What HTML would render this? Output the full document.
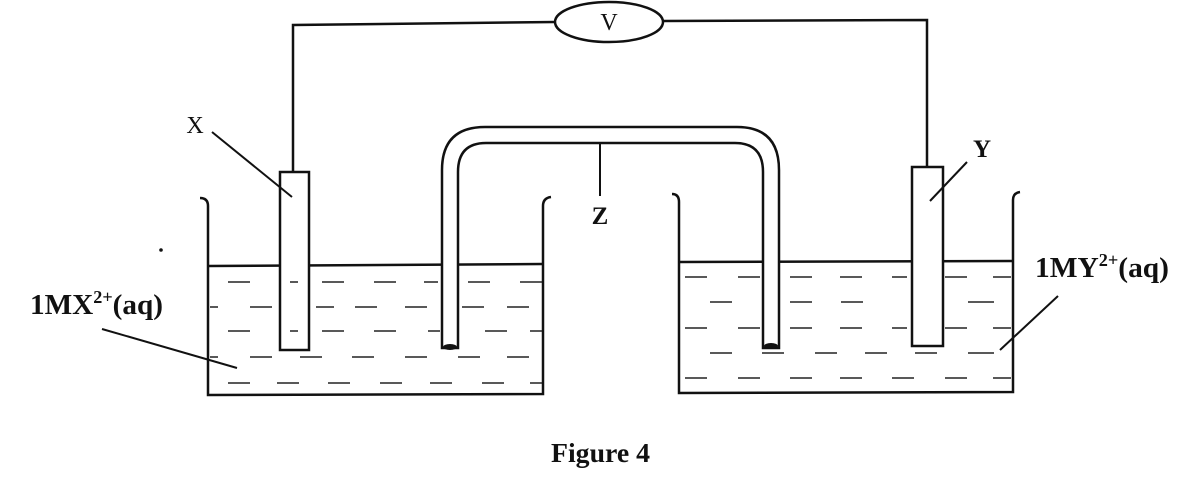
<!DOCTYPE html>
<html><head><meta charset="utf-8"><style>
html,body{margin:0;padding:0;background:#fff;}
svg{display:block;}
text{font-family:"Liberation Serif",serif;fill:#111;}
</style></head><body>
<svg width="1202" height="479" viewBox="0 0 1202 479" xmlns="http://www.w3.org/2000/svg">
<g stroke="#111" fill="none" stroke-width="2.5">
<polyline points="293,172 293,25 555,22"/>
<polyline points="663,21 927,20 927,167"/>
<ellipse cx="609" cy="22" rx="54" ry="20"/>
<path d="M200,198 Q208,198 208,206 L208,395 L543,394 L543,206 Q543,198 551,197"/>
<line x1="208" y1="266" x2="543" y2="264"/>
<path d="M672,194 Q679,194 679,202 L679,393 L1013,392 L1013,200 Q1013,193 1020,192"/>
<line x1="679" y1="262" x2="1013" y2="261"/>
</g>
<rect x="280" y="172" width="29" height="178" fill="#fff" stroke="#111" stroke-width="2.5"/>
<rect x="912" y="167" width="31" height="179" fill="#fff" stroke="#111" stroke-width="2.5"/>
<path d="M442,348 L442,170 Q442,127 485,127 L737,127 Q779,127 779,170 L779,348 L763,348 L763,172 Q763,143 735,143 L486,143 Q458,143 458,172 L458,348 Z" fill="#fff" stroke="#111" stroke-width="2.5"/>
<ellipse cx="450" cy="347" rx="7" ry="3" fill="#111"/>
<ellipse cx="771" cy="346" rx="7" ry="3" fill="#111"/>
<g stroke="#222" stroke-width="1.6">
<path d="M228,282h22 M290,282h8 M322,282h22 M374,282h22 M424,282h14 M468,282h22 M520,282h22"/>
<path d="M210,307h8 M250,307h22 M316,307h18 M355,307h22 M405,307h22 M462,307h22 M507,307h22"/>
<path d="M228,331h22 M290,331h8 M322,331h22 M374,331h22 M428,331h12 M485,331h22 M530,331h12"/>
<path d="M210,357h8 M250,357h22 M300,357h22 M352,357h22 M405,357h22 M458,357h22 M507,357h22"/>
<path d="M228,383h22 M277,383h22 M328,383h22 M380,383h22 M430,383h22 M482,383h22 M530,383h12"/>
<path d="M685,277h22 M738,277h22 M790,277h22 M840,277h22 M892,277h15 M945,277h22 M993,277h18"/>
<path d="M710,302h22 M790,302h22 M841,302h22 M968,302h26"/>
<path d="M685,328h22 M738,328h22 M790,328h22 M840,328h22 M892,328h15 M945,328h22 M993,328h18"/>
<path d="M710,353h22 M762,353h22 M815,353h22 M865,353h22 M915,353h22 M968,353h26"/>
<path d="M685,378h22 M738,378h22 M790,378h22 M840,378h22 M892,378h22 M945,378h22 M993,378h18"/>
</g>
<g stroke="#111" stroke-width="2">
<line x1="212" y1="132" x2="292" y2="197"/>
<line x1="600" y1="143" x2="600" y2="196"/>
<line x1="967" y1="162" x2="930" y2="201"/>
<line x1="102" y1="329" x2="237" y2="368"/>
<line x1="1058" y1="296" x2="1000" y2="350"/>
</g>
<circle cx="161" cy="250" r="1.8" fill="#111"/>
<text x="195" y="133" font-size="24" text-anchor="middle">X</text>
<text x="600" y="224" font-size="25" font-weight="bold" text-anchor="middle">Z</text>
<text x="982" y="157" font-size="25" font-weight="bold" text-anchor="middle">Y</text>
<text x="609" y="30" font-size="24" text-anchor="middle">V</text>
<text x="30" y="314" font-size="29" font-weight="bold" textLength="133" lengthAdjust="spacingAndGlyphs">1MX<tspan font-size="18" dy="-11">2+</tspan><tspan dy="11">(aq)</tspan></text>
<text x="1035" y="277" font-size="29" font-weight="bold" textLength="134" lengthAdjust="spacingAndGlyphs">1MY<tspan font-size="18" dy="-11">2+</tspan><tspan dy="11">(aq)</tspan></text>
<text x="551" y="462" font-size="27" font-weight="bold" textLength="99" lengthAdjust="spacingAndGlyphs">Figure 4</text>
</svg>
</body></html>
